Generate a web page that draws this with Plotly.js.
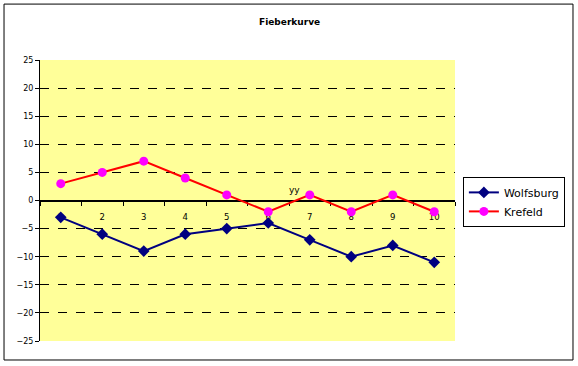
<!DOCTYPE html>
<html><head><meta charset="utf-8">
<script src="https://cdn.plot.ly/plotly-3.0.1.min.js"></script>
<style>html,body{margin:0;padding:0;background:#fff}#c{width:578px;height:366px}</style>
</head><body><div id="c"></div>
<script>
const categories = ["1","2","3","4","5","6","7","8","9","10"];
const wolfsburg = [-3,-6,-9,-6,-5,-4,-7,-10,-8,-11];
const krefeld = [3,5,7,4,1,-2,1,-2,1,-2];
const yTicks = [-25,-20,-15,-10,-5,0,5,10,15,20,25];
const gridVals = [-20,-15,-10,-5,5,10,15,20];
const FONT = "DejaVu Sans, Tahoma, sans-serif";

const traces = [
  {x: categories, y: wolfsburg, name: "Wolfsburg", type: "scatter", mode: "lines+markers",
   line: {color: "#000080", width: 2}, marker: {symbol: "diamond", size: 9, color: "#000080"}},
  {x: categories, y: krefeld, name: "Krefeld", type: "scatter", mode: "lines+markers",
   line: {color: "#FF0000", width: 2}, marker: {symbol: "circle", size: 9, color: "#FF00FF"}}
];

const layout = {
  width: 578, height: 366,
  margin: {l: 40, r: 123, t: 60, b: 25, pad: 0, autoexpand: false},
  paper_bgcolor: "#ffffff", plot_bgcolor: "#FFFF99",
  font: {family: FONT, size: 8, color: "#000"},
  showlegend: true,
  legend: {x: 1.019, y: 0.584, xanchor: "left", yanchor: "top", bgcolor: "#fff",
           bordercolor: "#000", borderwidth: 1, font: {family: FONT, size: 11, color: "#000"},
           itemwidth: 30},
  xaxis: {type: "category", range: [-0.5, 9.5], anchor: "free", position: 0.5,
          showline: true, linecolor: "#000", linewidth: 1, ticks: "outside", ticklen: 4,
          tickcolor: "#000", tickson: "boundaries", showgrid: false, zeroline: false,
          ticklabelstandoff: 8,
          tickfont: {family: FONT, size: 8.5}, layer: "below traces", fixedrange: true},
  yaxis: {range: [-25, 25], tickvals: yTicks, showline: true, linecolor: "#000", linewidth: 1,
          ticks: "outside", ticklen: 4, tickcolor: "#000", showgrid: false,
          zeroline: true, zerolinecolor: "#000", zerolinewidth: 1,
          tickfont: {family: FONT, size: 8}, layer: "below traces", fixedrange: true},
  yaxis2: {overlaying: "y", matches: "y", range: [-25, 25], tickvals: gridVals, showticklabels: false,
           ticks: "", showline: false, zeroline: false, showgrid: true, gridcolor: "#000",
           griddash: "dash", gridwidth: 1, layer: "below traces", fixedrange: true},
  annotations: [
    {text: "<b>Fieberkurve</b>", xref: "paper", yref: "paper", x: 0.6, y: 1.135, showarrow: false,
     xanchor: "center", yanchor: "middle", font: {family: FONT, size: 9, color: "#000"}},
    {text: "yy", xref: "paper", yref: "paper", x: 0.614, y: 0.537, showarrow: false,
     font: {family: FONT, size: 9, color: "#000"}}
  ],
  shapes: [
    {type: "rect", xref: "paper", yref: "paper", x0: -0.0867, x1: 1.2843, y0: -0.0676, y1: 1.199,
     line: {color: "#000", width: 1}, fillcolor: "rgba(0,0,0,0)", layer: "below"}
  ]
};
// invisible trace so the grid axis is drawn
traces.push({x: [categories[0]], y: [null], yaxis: "y2", showlegend: false, hoverinfo: "skip",
             type: "scatter", mode: "markers"});
Plotly.newPlot("c", traces, layout, {displayModeBar: false, staticPlot: true});
</script></body></html>
